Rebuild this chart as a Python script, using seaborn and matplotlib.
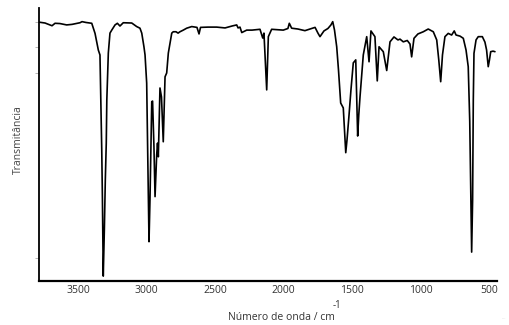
import matplotlib
matplotlib.use("Agg")
import matplotlib.pyplot as plt
import seaborn as sns
import pandas as pd

# IR spectrum (wavenumber in cm-1, transmittance in %)
wavenumber = [3783, 3741, 3705, 3690, 3668, 3632, 3583, 3544, 3486, 3471, 3442, 3400,
              3376, 3352, 3340, 3335, 3327, 3322, 3316, 3308, 3301, 3294, 3290, 3279,
              3267, 3254, 3230, 3213, 3194, 3170, 3108, 3072, 3048, 3035, 3019, 3011,
              2999, 2989, 2982, 2975, 2962, 2956, 2946, 2938, 2926, 2920, 2914, 2902,
              2891, 2878, 2865, 2853, 2841, 2816, 2805, 2785, 2770, 2756, 2732, 2707,
              2670, 2632, 2617, 2606, 2551, 2488, 2427, 2376, 2342, 2332, 2318, 2305,
              2269, 2230, 2172, 2152, 2143, 2123, 2111, 2087, 2055, 2002, 1968, 1958,
              1941, 1895, 1844, 1807, 1770, 1749, 1734, 1705, 1676, 1654, 1641, 1628,
              1612, 1599, 1583, 1564, 1546, 1537, 1522, 1508, 1491, 1473, 1459, 1451,
              1442, 1418, 1393, 1376, 1362, 1333, 1316, 1303, 1272, 1247, 1223, 1194,
              1165, 1150, 1126, 1097, 1077, 1065, 1048, 1019, 980, 944, 907, 882,
              867, 853, 840, 822, 798, 773, 754, 741, 712, 688, 668, 652,
              641, 633, 627, 620, 615, 610, 595, 579, 549, 530, 518, 506,
              497, 488, 471, 457]
transmittance = [94.8, 94.5, 93.8, 93.5, 94.4, 94.3, 93.8, 94.0, 94.6, 95.0, 94.7, 94.4,
                 90.7, 84.6, 82.8, 70.0, 48.0, 29.7, 1.8, 18.7, 37.0, 50.5, 66.3, 83.5,
                 90.8, 91.9, 93.8, 94.4, 93.4, 94.6, 94.5, 93.2, 92.6, 90.8, 85.8, 82.8,
                 72.5, 37.0, 14.4, 29.7, 65.7, 65.9, 49.2, 30.9, 46.2, 50.5, 45.5, 70.7,
                 67.4, 51.0, 74.8, 76.2, 83.5, 90.8, 91.3, 91.3, 90.8, 91.3, 91.9, 92.6,
                 93.2, 92.9, 90.5, 92.9, 93.0, 93.0, 92.7, 93.4, 93.8, 92.7, 93.0, 91.0,
                 91.9, 91.9, 92.2, 89.0, 90.8, 70.0, 89.5, 92.2, 92.1, 91.9, 92.5, 94.4,
                 92.6, 92.3, 91.7, 92.3, 92.9, 90.8, 89.5, 91.6, 92.5, 93.8, 95.0, 91.9,
                 85.8, 77.3, 65.2, 63.4, 47.0, 51.6, 60.8, 70.0, 79.9, 81.0, 53.1, 60.8,
                 67.4, 82.8, 89.5, 80.3, 91.6, 89.5, 73.3, 85.8, 84.0, 77.1, 87.6, 89.4,
                 88.3, 88.6, 87.6, 88.1, 86.8, 82.1, 88.9, 90.5, 91.3, 92.3, 91.3, 88.3,
                 81.0, 73.0, 82.8, 89.5, 90.7, 90.1, 91.6, 90.1, 89.7, 88.9, 84.6, 78.5,
                 58.6, 29.7, 10.6, 29.7, 66.3, 83.4, 88.3, 89.5, 89.5, 87.5, 84.6, 78.5,
                 81.0, 84.0, 84.2, 84.0]

xtick_values = [3500, 3000, 2500, 2000, 1500, 1000, 500]
ytick_values = [94.9, 85.7, 76.2, 8.5]
x_label = "Número de onda / cm"
x_label_sup = "-1"
y_label = "Transmitância"

df = pd.DataFrame({"wn": wavenumber, "T": transmittance})

sns.set_theme(style="white")
plt.rcParams["font.family"] = ["Open Sans", "DejaVu Sans"]

fig = plt.figure(figsize=(5.09, 3.25), dpi=100)
ax = fig.add_axes([39 / 509, 1 - 281 / 325, (497 - 39) / 509, (281 - 8) / 325])

sns.lineplot(data=df, x="wn", y="T", sort=False, estimator=None,
             color="black", linewidth=1.2, ax=ax)

ax.set_xlim(3785, 442)
ax.set_ylim(0, 100)
ax.set_xticks(xtick_values)
ax.set_xticklabels([str(v) for v in xtick_values])
ax.set_yticks(ytick_values)
ax.set_yticklabels([])
ax.set_xlabel("")
ax.set_ylabel("")

for s in ["top", "right"]:
    ax.spines[s].set_visible(False)
ax.spines["left"].set_color("black")
ax.spines["left"].set_linewidth(1.3)
ax.spines["bottom"].set_color("black")
ax.spines["bottom"].set_linewidth(1.6)

ax.tick_params(axis="x", length=1.5, width=0.6, color="#999999", labelsize=7.5,
               labelcolor="#333333", pad=1.5)
ax.tick_params(axis="y", length=3, width=0.6, color="#aaaaaa", left=True, direction="out")

fig.text(228 / 509, 1 - 317 / 325, x_label, ha="left", va="center",
         fontsize=7.5, color="#333333")
fig.text(333 / 509, 1 - 305 / 325, x_label_sup, ha="left", va="center",
         fontsize=7, color="#333333")
fig.text(18 / 509, 1 - 140 / 325, y_label, ha="center", va="center", rotation=90,
         fontsize=7.5, color="#444444")
fig.text(504 / 509, 1 - 319 / 325, "····", ha="center", va="center",
         fontsize=3, color="#bbbbbb")

fig.savefig("out.png", dpi=100)
